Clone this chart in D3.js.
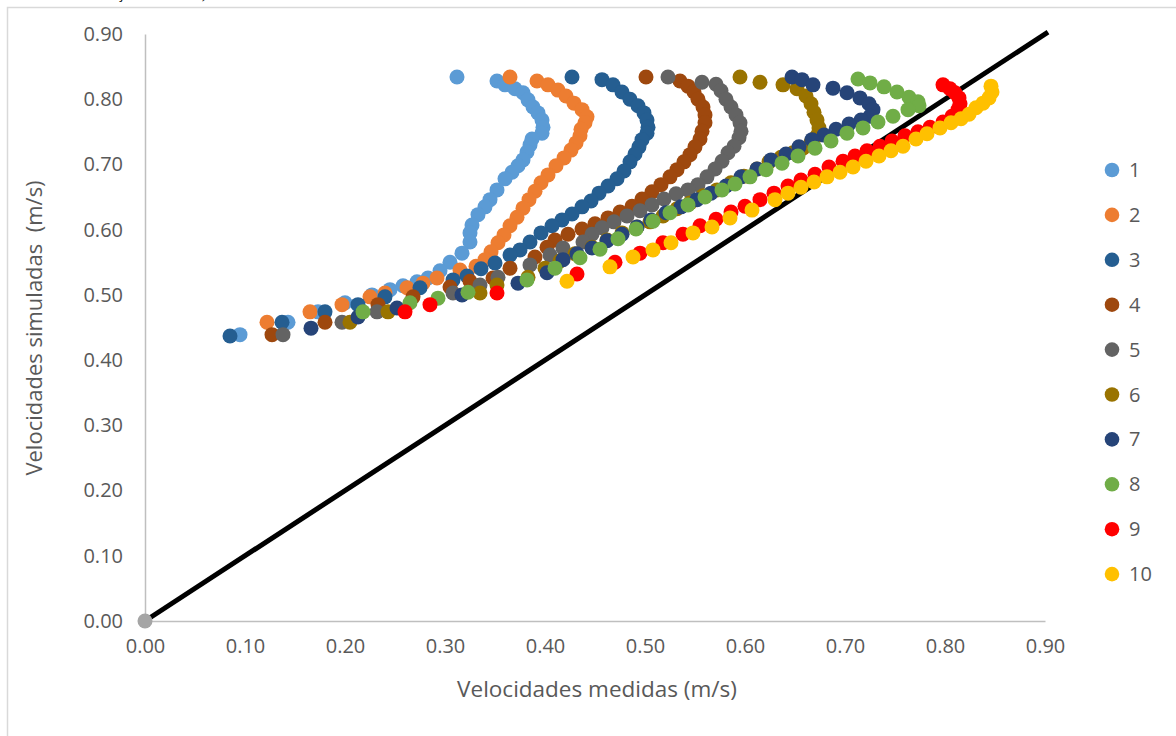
<!DOCTYPE html>
<html>
<head>
<meta charset="utf-8">
<script src="https://cdn.jsdelivr.net/npm/d3@7"></script>
<style>
  body { margin: 0; background: #fff; }
  svg { display: block; }
  text { font-family: "Open Sans", sans-serif; }
</style>
</head>
<body>
<svg id="chart" width="1176" height="736"></svg>
<script>
const s1 = [[0.312,0.834],[0.352,0.828],[0.360,0.822],[0.370,0.816],[0.378,0.810],[0.383,0.799],[0.388,0.788],[0.393,0.779],[0.397,0.768],[0.398,0.757],[0.397,0.748],[0.387,0.739],[0.385,0.730],[0.382,0.719],[0.378,0.707],[0.373,0.698],[0.367,0.688],[0.360,0.678],[0.352,0.661],[0.345,0.646],[0.340,0.635],[0.333,0.623],[0.327,0.607],[0.325,0.595],[0.325,0.581],[0.317,0.564],[0.305,0.550],[0.295,0.537],[0.283,0.526],[0.272,0.520],[0.258,0.514],[0.245,0.508],[0.227,0.500],[0.200,0.488],[0.173,0.474],[0.143,0.458],[0.095,0.439]]
const s2 = [[0.365,0.834],[0.392,0.828],[0.403,0.822],[0.413,0.814],[0.421,0.805],[0.429,0.794],[0.437,0.784],[0.442,0.773],[0.440,0.764],[0.436,0.754],[0.435,0.744],[0.431,0.733],[0.426,0.722],[0.419,0.710],[0.411,0.698],[0.403,0.684],[0.396,0.672],[0.390,0.659],[0.384,0.646],[0.378,0.633],[0.372,0.619],[0.365,0.606],[0.359,0.592],[0.353,0.580],[0.346,0.566],[0.340,0.554],[0.331,0.544],[0.315,0.538],[0.292,0.526],[0.278,0.518],[0.262,0.511],[0.240,0.503],[0.225,0.497],[0.197,0.485],[0.165,0.474],[0.122,0.458]]
const s3 = [[0.427,0.834],[0.457,0.830],[0.468,0.822],[0.477,0.811],[0.485,0.800],[0.493,0.790],[0.499,0.779],[0.502,0.768],[0.503,0.757],[0.502,0.748],[0.497,0.738],[0.494,0.727],[0.490,0.716],[0.485,0.704],[0.479,0.690],[0.472,0.678],[0.463,0.667],[0.454,0.656],[0.446,0.644],[0.437,0.635],[0.427,0.624],[0.417,0.615],[0.407,0.606],[0.396,0.595],[0.385,0.581],[0.375,0.569],[0.365,0.561],[0.350,0.549],[0.336,0.540],[0.322,0.529],[0.308,0.523],[0.275,0.511],[0.240,0.497],[0.213,0.485],[0.180,0.474],[0.137,0.458],[0.085,0.437]]
const s4 = [[0.501,0.834],[0.535,0.828],[0.543,0.820],[0.549,0.811],[0.553,0.800],[0.558,0.788],[0.560,0.776],[0.560,0.764],[0.557,0.751],[0.555,0.739],[0.550,0.727],[0.545,0.715],[0.539,0.704],[0.532,0.692],[0.525,0.681],[0.516,0.669],[0.507,0.658],[0.497,0.647],[0.487,0.636],[0.475,0.627],[0.463,0.618],[0.450,0.609],[0.437,0.601],[0.423,0.593],[0.410,0.584],[0.402,0.573],[0.390,0.558],[0.365,0.541],[0.348,0.526],[0.325,0.521],[0.305,0.512],[0.268,0.497],[0.233,0.485],[0.180,0.458],[0.127,0.439]]
const s5 = [[0.523,0.834],[0.557,0.826],[0.571,0.823],[0.576,0.813],[0.581,0.800],[0.586,0.788],[0.591,0.776],[0.595,0.764],[0.596,0.751],[0.594,0.741],[0.589,0.728],[0.583,0.718],[0.577,0.705],[0.570,0.693],[0.562,0.681],[0.553,0.669],[0.543,0.661],[0.531,0.655],[0.519,0.647],[0.507,0.638],[0.495,0.629],[0.482,0.621],[0.469,0.612],[0.457,0.603],[0.447,0.593],[0.438,0.581],[0.418,0.572],[0.405,0.561],[0.385,0.546],[0.353,0.527],[0.335,0.515],[0.308,0.503],[0.232,0.474],[0.197,0.458],[0.138,0.439]]
const s6 = [[0.595,0.834],[0.615,0.826],[0.638,0.822],[0.652,0.816],[0.661,0.805],[0.666,0.793],[0.669,0.780],[0.672,0.768],[0.674,0.756],[0.672,0.744],[0.666,0.734],[0.658,0.725],[0.648,0.718],[0.636,0.711],[0.624,0.704],[0.612,0.693],[0.599,0.682],[0.586,0.672],[0.572,0.661],[0.558,0.652],[0.545,0.641],[0.532,0.632],[0.518,0.621],[0.505,0.612],[0.492,0.604],[0.477,0.595],[0.462,0.584],[0.447,0.573],[0.430,0.563],[0.415,0.552],[0.400,0.541],[0.383,0.527],[0.352,0.515],[0.335,0.503],[0.243,0.474],[0.205,0.458]]
const s7 = [[0.647,0.834],[0.657,0.830],[0.668,0.822],[0.688,0.817],[0.702,0.810],[0.715,0.802],[0.724,0.793],[0.728,0.784],[0.725,0.774],[0.716,0.768],[0.704,0.762],[0.691,0.754],[0.679,0.745],[0.667,0.738],[0.654,0.727],[0.641,0.716],[0.626,0.707],[0.612,0.693],[0.596,0.681],[0.581,0.667],[0.566,0.656],[0.552,0.646],[0.536,0.635],[0.521,0.626],[0.506,0.615],[0.492,0.604],[0.477,0.593],[0.462,0.583],[0.447,0.572],[0.432,0.563],[0.418,0.554],[0.402,0.534],[0.373,0.518],[0.317,0.500],[0.252,0.480],[0.213,0.466],[0.166,0.449]]
const s8 = [[0.713,0.831],[0.725,0.825],[0.739,0.819],[0.752,0.811],[0.764,0.803],[0.773,0.796],[0.774,0.790],[0.763,0.784],[0.748,0.774],[0.733,0.765],[0.718,0.756],[0.702,0.748],[0.686,0.736],[0.670,0.725],[0.653,0.713],[0.637,0.702],[0.621,0.692],[0.605,0.681],[0.590,0.670],[0.577,0.661],[0.560,0.650],[0.543,0.638],[0.525,0.626],[0.508,0.613],[0.491,0.601],[0.473,0.586],[0.455,0.570],[0.435,0.557],[0.410,0.541],[0.382,0.523],[0.323,0.504],[0.293,0.495],[0.265,0.488],[0.218,0.474]]
const s9 = [[0.798,0.822],[0.805,0.816],[0.810,0.810],[0.814,0.802],[0.815,0.793],[0.813,0.784],[0.807,0.774],[0.798,0.765],[0.785,0.757],[0.773,0.750],[0.760,0.744],[0.747,0.736],[0.735,0.728],[0.722,0.721],[0.710,0.713],[0.698,0.705],[0.684,0.696],[0.670,0.685],[0.656,0.676],[0.643,0.667],[0.629,0.656],[0.615,0.646],[0.600,0.636],[0.586,0.627],[0.571,0.616],[0.555,0.606],[0.538,0.593],[0.518,0.580],[0.495,0.564],[0.470,0.550],[0.432,0.532],[0.352,0.503],[0.285,0.485],[0.260,0.474]]
const s10 = [[0.846,0.820],[0.847,0.811],[0.844,0.802],[0.838,0.794],[0.831,0.787],[0.824,0.777],[0.816,0.770],[0.806,0.764],[0.795,0.756],[0.782,0.747],[0.771,0.739],[0.758,0.728],[0.746,0.721],[0.734,0.713],[0.721,0.705],[0.708,0.696],[0.695,0.688],[0.682,0.681],[0.669,0.673],[0.656,0.665],[0.643,0.656],[0.630,0.646],[0.607,0.630],[0.585,0.618],[0.567,0.604],[0.548,0.595],[0.526,0.580],[0.508,0.569],[0.488,0.558],[0.465,0.543],[0.422,0.521]]

const seriesNames = ['1','2','3','4','5','6','7','8','9','10']
const seriesData = [s1, s2, s3, s4, s5, s6, s7, s8, s9, s10]
const seriesColors = ['#5B9BD5','#ED7D31','#255E91','#9E480E','#636363','#997300','#264478','#70AD47','#FF0000','#FFC000']

// 1:1 reference line
const lineX = [0, 0.903]
const lineY = [0, 0.903]
const originPoint = [0, 0]

const xTicks = [0,0.1,0.2,0.3,0.4,0.5,0.6,0.7,0.8,0.9]
const yTicks = [0,0.1,0.2,0.3,0.4,0.5,0.6,0.7,0.8,0.9]

const svg = d3.select('#chart')

// frame of the chart object
svg.append('rect')
  .attr('x', 7.5).attr('y', 7.5)
  .attr('width', 1200).attr('height', 760)
  .attr('fill', 'none')
  .attr('stroke', '#d9d9d9')
  .attr('stroke-width', 1.5)

// caption line cut off above the frame (only its lowest part shows)
svg.append('text')
  .attr('x', 207).attr('y', -2)
  .attr('text-anchor', 'end')
  .style('font-family', '"Liberation Serif", serif')
  .style('font-size', '16px')
  .text('(Fonte: resultados da simulação calibrada)')

const xScale = d3.scaleLinear().domain([0, 0.9]).range([145, 1045])
const yScale = d3.scaleLinear().domain([0, 0.9]).range([621, 34])
const fmt = d3.format('.2f')

svg.append('g')
  .attr('transform', `translate(${xScale(0)},0)`)
  .call(d3.axisLeft(yScale).tickValues(yTicks).tickFormat(fmt).tickSize(0).tickPadding(22))
svg.append('g')
  .attr('transform', `translate(0,${yScale(0)})`)
  .call(d3.axisBottom(xScale).tickValues(xTicks).tickFormat(fmt).tickSize(0).tickPadding(18))

svg.selectAll('.domain').attr('stroke', '#bfbfbf').attr('stroke-width', 1.5)
svg.selectAll('.tick text')
  .attr('fill', '#595959')
  .style('font-size', '20px')
  .style('font-family', '"Open Sans", sans-serif')

// axis titles
svg.append('text')
  .attr('x', 597).attr('y', 697)
  .attr('text-anchor', 'middle')
  .attr('fill', '#595959')
  .style('font-size', '22.5px')
  .text('Velocidades medidas (m/s)')

svg.append('text')
  .attr('transform', 'translate(42,328) rotate(-90)')
  .attr('text-anchor', 'middle')
  .attr('fill', '#595959')
  .style('font-size', '22px')
  .text('Velocidades simuladas\u00a0 (m/s)')

// reference line
svg.append('line')
  .attr('x1', xScale(lineX[0])).attr('y1', yScale(lineY[0]))
  .attr('x2', xScale(lineX[1])).attr('y2', yScale(lineY[1]))
  .attr('stroke', '#000')
  .attr('stroke-width', 5)

svg.append('circle')
  .attr('cx', xScale(originPoint[0]))
  .attr('cy', yScale(originPoint[1]))
  .attr('r', 7.5)
  .attr('fill', '#A5A5A5')

// scatter series
seriesData.forEach((data, i) => {
  svg.append('g')
    .selectAll('circle')
    .data(data)
    .join('circle')
      .attr('cx', d => xScale(d[0]))
      .attr('cy', d => yScale(d[1]))
      .attr('r', 7.5)
      .attr('fill', seriesColors[i])
})

// legend
const legend = svg.append('g').attr('transform', 'translate(1112,170)')
seriesNames.forEach((name, i) => {
  const g = legend.append('g').attr('transform', `translate(0,${i * 44.9})`)
  g.append('circle').attr('r', 7.3).attr('fill', seriesColors[i])
  g.append('text')
    .attr('x', 17).attr('y', 0)
    .attr('dy', '0.35em')
    .attr('fill', '#595959')
    .style('font-size', '20px')
    .text(name)
})
</script>
</body>
</html>
